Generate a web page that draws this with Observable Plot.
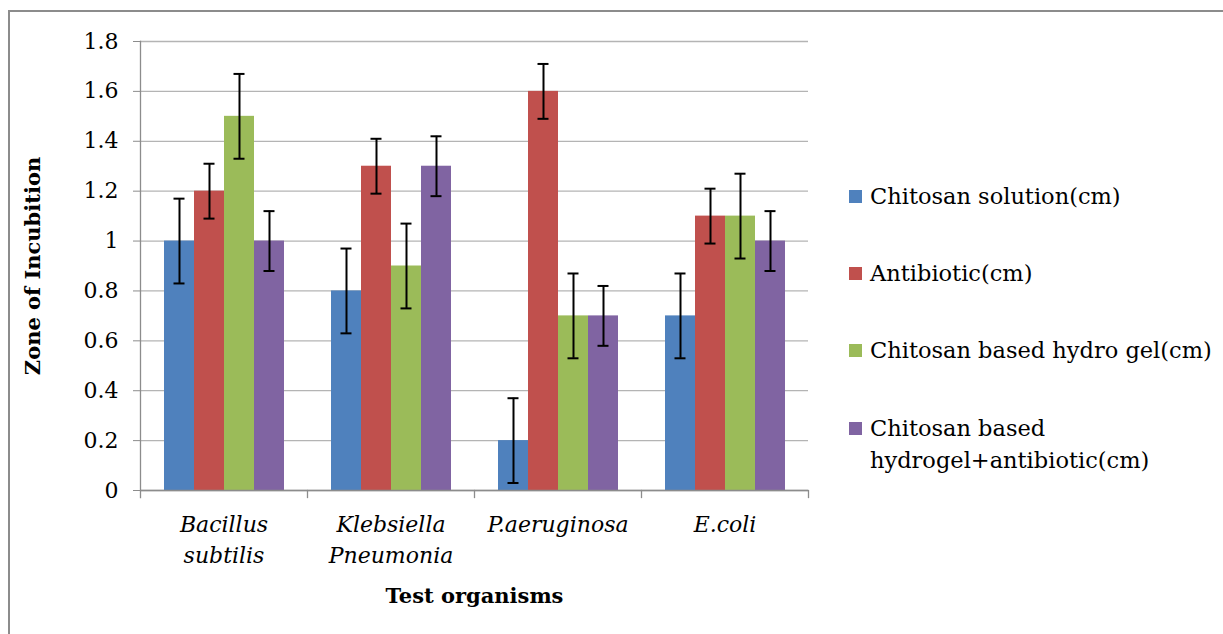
<!DOCTYPE html>
<html>
<head>
<meta charset="utf-8">
<script src="https://cdn.jsdelivr.net/npm/d3@7"></script>
<script src="https://cdn.jsdelivr.net/npm/@observablehq/plot@0.6"></script>
<style>
  html, body { margin: 0; padding: 0; background: #fff; overflow: hidden; }
  #wrap { position: relative; width: 1223px; height: 634px; overflow: hidden; }
  #border { position: absolute; left: 8px; top: 10px; width: 1400px; height: 800px; border: 2px solid #8c8c8c; box-sizing: border-box; }
  #chart { position: absolute; left: 0; top: 0; }
  #legend { position: absolute; left: 849px; top: 0; font-family: "DejaVu Serif", serif; font-size: 22.5px; color: #000; }
  .item { position: absolute; left: 0; width: 375px; display: flex; align-items: flex-start; line-height: 32px; }
  .sw { width: 13px; height: 13px; flex: none; margin-top: 10px; margin-right: 8px; }
  g[aria-label="fx-axis label"] text { font-weight: bold; font-style: normal; font-size: 21px; }
  g[aria-label="y-axis label"] text { font-weight: bold; font-size: 21px; }
</style>
</head>
<body>
<div id="wrap">
  <div id="border"></div>
  <div id="chart"></div>
  <div id="legend"></div>
</div>
<script>
const organisms = ["Bacillus subtilis", "Klebsiella Pneumonia", "P.aeruginosa", "E.coli"];
const organismLabels = ["Bacillus\nsubtilis", "Klebsiella\nPneumonia", "P.aeruginosa", "E.coli"];
const series = ["Chitosan solution(cm)", "Antibiotic(cm)", "Chitosan based hydro gel(cm)", "Chitosan based hydrogel+antibiotic(cm)"];
const colors = ["#4F81BD", "#C0504D", "#9BBB59", "#8064A2"];

const chitosanSolution   = [1.0, 0.8, 0.2, 0.7];
const antibiotic         = [1.2, 1.3, 1.6, 1.1];
const hydrogel           = [1.5, 0.9, 0.7, 1.1];
const hydrogelAntibiotic = [1.0, 1.3, 0.7, 1.0];

const errChitosanSolution   = [0.17, 0.17, 0.17, 0.17];
const errAntibiotic         = [0.11, 0.11, 0.11, 0.11];
const errHydrogel           = [0.17, 0.17, 0.17, 0.17];
const errHydrogelAntibiotic = [0.12, 0.12, 0.12, 0.12];

const yTicks = [0, 0.2, 0.4, 0.6, 0.8, 1.0, 1.2, 1.4, 1.6, 1.8];

const values = [chitosanSolution, antibiotic, hydrogel, hydrogelAntibiotic];
const errors = [errChitosanSolution, errAntibiotic, errHydrogel, errHydrogelAntibiotic];
const data = [];
organisms.forEach((o, i) => {
  series.forEach((s, j) => {
    data.push({organism: o, series: s, value: values[j][i], lo: values[j][i] - errors[j][i], hi: values[j][i] + errors[j][i]});
  });
});

const axisGray = "#8c8c8c";
const gridGray = "#b4b4b4";

const chart = Plot.plot({
  width: 1223,
  height: 634,
  marginLeft: 140,
  marginRight: 415,
  marginTop: 41,
  marginBottom: 144,
  style: {fontFamily: "DejaVu Serif, serif", fontSize: "22px", color: "#000", background: "transparent"},
  fx: {domain: organisms, padding: 0},
  x: {domain: series, paddingInner: 0, paddingOuter: 0.75},
  y: {domain: [0, 1.8]},
  color: {domain: series, range: colors},
  marks: [
    Plot.gridY(yTicks, {stroke: gridGray, strokeOpacity: 1, strokeWidth: 1.3}),
    Plot.barY(data, {fx: "organism", x: "series", y: "value", fill: "series", inset: 0}),
    Plot.ruleY([0], {stroke: axisGray, strokeWidth: 1.3}),
    Plot.frame({anchor: "left", facetAnchor: "left", stroke: axisGray, strokeWidth: 1.3, insetBottom: -7}),
    Plot.frame({anchor: "right", stroke: axisGray, strokeWidth: 1.3, insetTop: 449, insetBottom: -7}),
    Plot.ruleX(data, {fx: "organism", x: "series", y1: "lo", y2: "hi", stroke: "#000", strokeWidth: 2}),
    Plot.tickY(data, {fx: "organism", x: "series", y: "hi", stroke: "#000", strokeWidth: 2, insetLeft: 9.5, insetRight: 9.5}),
    Plot.tickY(data, {fx: "organism", x: "series", y: "lo", stroke: "#000", strokeWidth: 2, insetLeft: 9.5, insetRight: 9.5}),
    Plot.axisY({
      ticks: yTicks, tickSize: 7, tickPadding: 15, stroke: axisGray,
      tickFormat: d => String(+d.toFixed(1)),
      label: "Zone of Incubition", labelAnchor: "center", labelOffset: 115, labelArrow: "none",
      fill: "#000"
    }),
    Plot.axisX({ticks: [], label: null}),
    Plot.axisFx({
      anchor: "bottom", tickSize: 0, tickPadding: 20, lineHeight: 1.4,
      fontStyle: "italic",
      tickFormat: d => organismLabels[organisms.indexOf(d)],
      label: "Test organisms", labelAnchor: "center", labelOffset: 112, labelArrow: "none",
      fill: "#000"
    })
  ]
});
document.getElementById("chart").appendChild(chart);

const legend = document.getElementById("legend");
const legendTops = [180, 257, 334, 412];
series.forEach((s, i) => {
  const item = document.createElement("div");
  item.className = "item";
  item.style.top = legendTops[i] + "px";
  const sw = document.createElement("span");
  sw.className = "sw";
  sw.style.background = colors[i];
  const tx = document.createElement("span");
  tx.textContent = s;
  item.appendChild(sw);
  item.appendChild(tx);
  legend.appendChild(item);
});
</script>
</body>
</html>
